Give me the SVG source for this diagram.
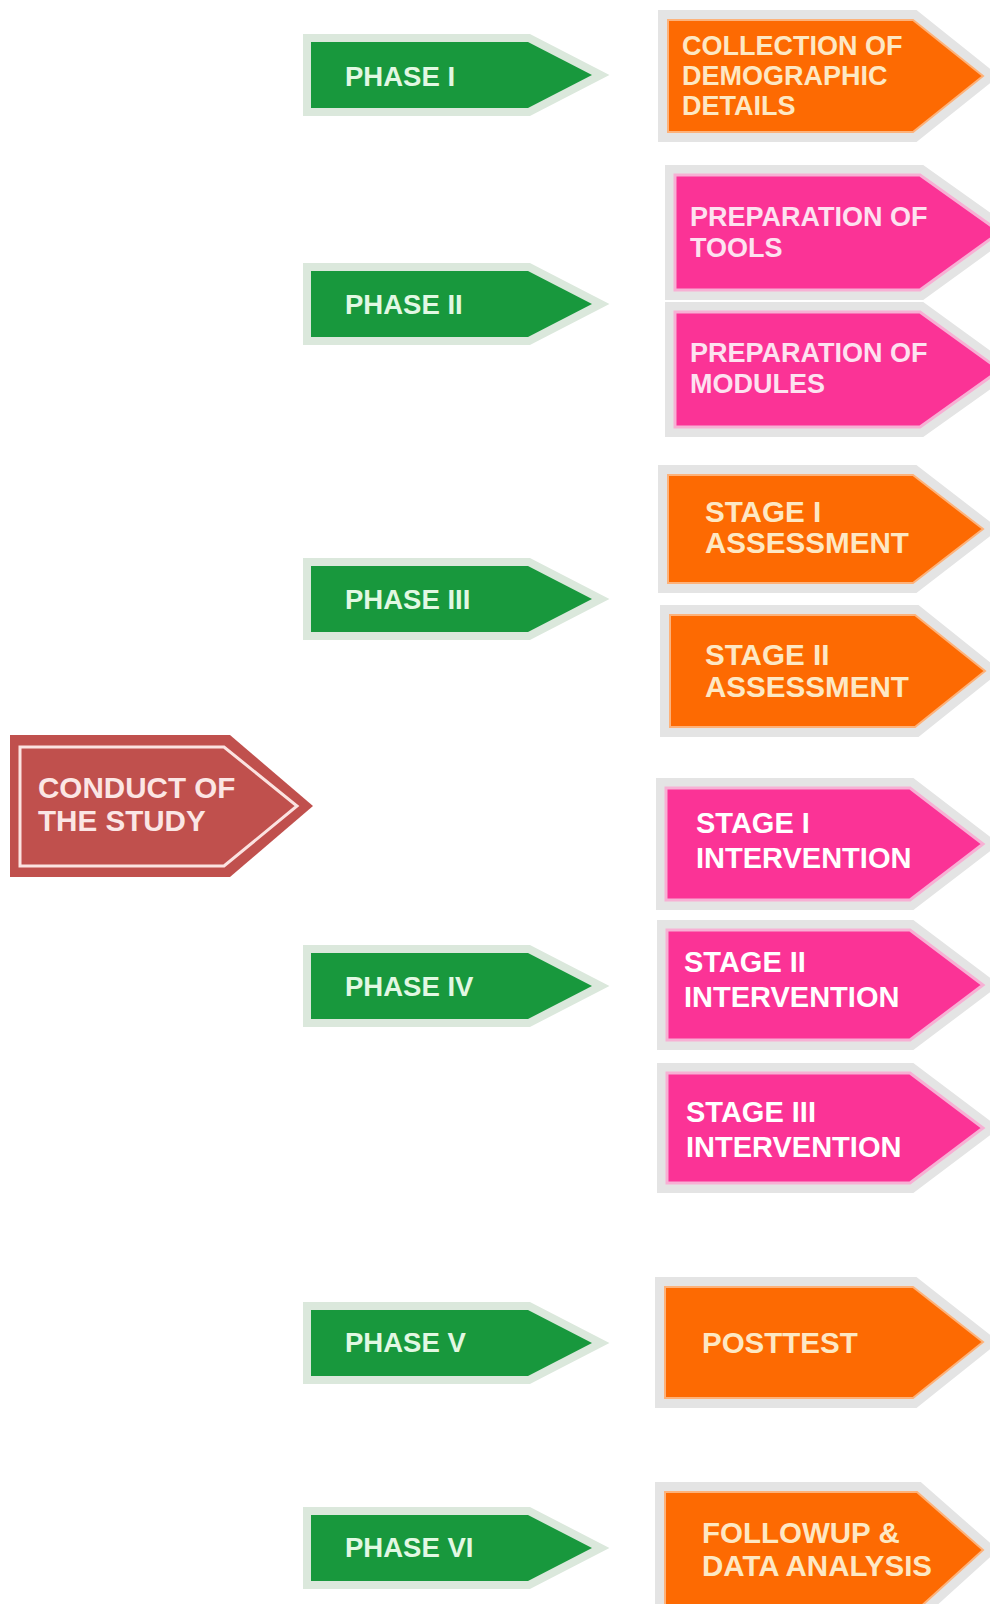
<svg xmlns="http://www.w3.org/2000/svg" width="990" height="1604" viewBox="0 0 990 1604">
<style>
text{font-family:"Liberation Sans",Arial,sans-serif;font-weight:bold}
.gout{fill:#dbe8dc;stroke:#dbe8dc;stroke-width:16;stroke-linejoin:miter}
.gin{fill:#18983d}
.gt{fill:#e2f8e3;font-size:27.5px}
.out{fill:#e4e4e4;stroke:#e4e4e4;stroke-width:20;stroke-linejoin:miter}
.oin{fill:#fd6a02;stroke:#fdb27a;stroke-width:2}
.pin{fill:#fb3396;stroke:#f7b0d4;stroke-width:3}
.ot{fill:#fde8c4}
.pt{fill:#fde2f0;font-size:27px}
.wt{fill:#ffffff;font-size:29px}
</style>
<rect width="990" height="1604" fill="#ffffff"/>

<g id="conduct">
<polygon points="10,735 230,735 313,806 230,877 10,877" fill="#c0504d"/>
<polygon points="20,747 224,747 297,806 224,866 20,866" fill="none" stroke="#fbe3e1" stroke-width="3"/>
<text x="38" y="798" font-size="29.6" fill="#fbe6e4">CONDUCT OF</text>
<text x="38" y="831" font-size="29.6" fill="#fbe6e4">THE STUDY</text>
</g>

<g id="phase1">
<polygon class="gout" points="311,42 528,42 592,75 528,108 311,108"/>
<polygon class="gin" points="311,42 528,42 592,75 528,108 311,108"/>
<text class="gt" x="345" y="86">PHASE I</text>
</g>
<g id="phase2">
<polygon class="gout" points="311,271 528,271 592,304 528,337 311,337"/>
<polygon class="gin" points="311,271 528,271 592,304 528,337 311,337"/>
<text class="gt" x="345" y="314">PHASE II</text>
</g>
<g id="phase3">
<polygon class="gout" points="311,566 528,566 592,599 528,632 311,632"/>
<polygon class="gin" points="311,566 528,566 592,599 528,632 311,632"/>
<text class="gt" x="345" y="609">PHASE III</text>
</g>
<g id="phase4">
<polygon class="gout" points="311,953 528,953 592,986 528,1019 311,1019"/>
<polygon class="gin" points="311,953 528,953 592,986 528,1019 311,1019"/>
<text class="gt" x="345" y="996">PHASE IV</text>
</g>
<g id="phase5">
<polygon class="gout" points="311,1310 528,1310 592,1343 528,1376 311,1376"/>
<polygon class="gin" points="311,1310 528,1310 592,1343 528,1376 311,1376"/>
<text class="gt" x="345" y="1352">PHASE V</text>
</g>
<g id="phase6">
<polygon class="gout" points="311,1515 528,1515 592,1548 528,1581 311,1581"/>
<polygon class="gin" points="311,1515 528,1515 592,1548 528,1581 311,1581"/>
<text class="gt" x="345" y="1557">PHASE VI</text>
</g>

<g id="collection">
<polygon class="out" points="668,20 913,20 983,76 913,132 668,132"/>
<polygon class="oin" points="668,20 913,20 983,76 913,132 668,132"/>
<text class="ot" x="682" y="55" font-size="27">COLLECTION OF</text>
<text class="ot" x="682" y="85" font-size="27">DEMOGRAPHIC</text>
<text class="ot" x="682" y="115" font-size="27">DETAILS</text>
</g>

<g id="prep-tools">
<polygon class="out" points="675,175 920,175 1000,232 920,290 675,290"/>
<polygon class="pin" points="675,175 920,175 1000,232 920,290 675,290"/>
<text class="pt" x="690" y="226">PREPARATION OF</text>
<text class="pt" x="690" y="257">TOOLS</text>
</g>

<g id="prep-modules">
<polygon class="out" points="675,312 920,312 1000,370 920,427 675,427"/>
<polygon class="pin" points="675,312 920,312 1000,370 920,427 675,427"/>
<text class="pt" x="690" y="362">PREPARATION OF</text>
<text class="pt" x="690" y="393">MODULES</text>
</g>

<g id="stage1-assessment">
<polygon class="out" points="668,475 913,475 983,529 913,583 668,583"/>
<polygon class="oin" points="668,475 913,475 983,529 913,583 668,583"/>
<text class="ot" x="705" y="522" font-size="29.6">STAGE I</text>
<text class="ot" x="705" y="553" font-size="29.6">ASSESSMENT</text>
</g>

<g id="stage2-assessment">
<polygon class="out" points="670,615 915,615 985,671 915,727 670,727"/>
<polygon class="oin" points="670,615 915,615 985,671 915,727 670,727"/>
<text class="ot" x="705" y="665" font-size="29.6">STAGE II</text>
<text class="ot" x="705" y="697" font-size="29.6">ASSESSMENT</text>
</g>

<g id="stage1-intervention">
<polygon class="out" points="666,788 910,788 983,844 910,900 666,900"/>
<polygon class="pin" points="666,788 910,788 983,844 910,900 666,900"/>
<text class="wt" x="696" y="833">STAGE I</text>
<text class="wt" x="696" y="868">INTERVENTION</text>
</g>

<g id="stage2-intervention">
<polygon class="out" points="667,930 910,930 983,985 910,1040 667,1040"/>
<polygon class="pin" points="667,930 910,930 983,985 910,1040 667,1040"/>
<text class="wt" x="684" y="972">STAGE II</text>
<text class="wt" x="684" y="1007">INTERVENTION</text>
</g>

<g id="stage3-intervention">
<polygon class="out" points="667,1073 910,1073 983,1128 910,1183 667,1183"/>
<polygon class="pin" points="667,1073 910,1073 983,1128 910,1183 667,1183"/>
<text class="wt" x="686" y="1122">STAGE III</text>
<text class="wt" x="686" y="1157">INTERVENTION</text>
</g>

<g id="posttest">
<polygon class="out" points="665,1287 913,1287 983,1342 913,1398 665,1398"/>
<polygon class="oin" points="665,1287 913,1287 983,1342 913,1398 665,1398"/>
<text class="ot" x="702" y="1353" font-size="29.5">POSTTEST</text>
</g>

<g id="followup">
<polygon class="out" points="665,1492 917,1492 983,1550 917,1610 665,1610"/>
<polygon class="oin" points="665,1492 917,1492 983,1550 917,1610 665,1610"/>
<text class="ot" x="702" y="1543" font-size="29.5">FOLLOWUP &amp;</text>
<text class="ot" x="702" y="1576" font-size="29.5">DATA ANALYSIS</text>
</g>
</svg>
